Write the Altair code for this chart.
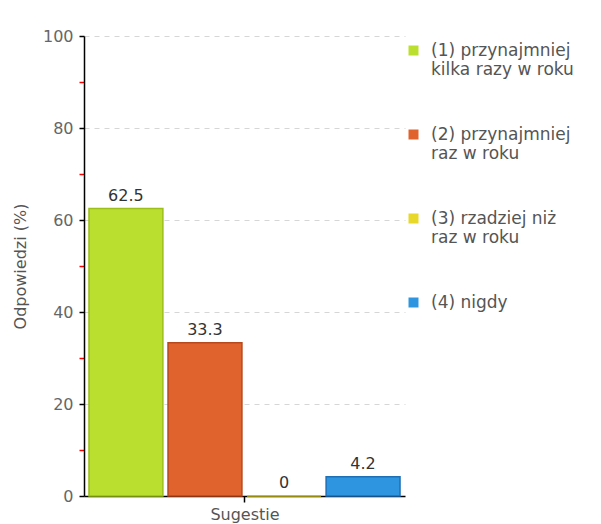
import altair as alt
import pandas as pd

group = ["Sugestie"] * 4
series = [
    "(1) przynajmniej\nkilka razy w roku",
    "(2) przynajmniej\nraz w roku",
    "(3) rzadziej niż\nraz w roku",
    "(4) nigdy",
]
values = [62.5, 33.3, 0.0, 4.2]
value_labels = ["62.5", "33.3", "0", "4.2"]
fill_colors = ["#BADF2E", "#E0622D", "#E8D82A", "#2E96E0"]
stroke_colors = ["#9CBE1A", "#B8481C", "#C9B915", "#1F6FB5"]
y_ticks = [0, 10, 20, 30, 40, 50, 60, 70, 80, 90, 100]

df = pd.DataFrame({"group": group, "series": series, "value": values, "lab": value_labels})

FONT = "DejaVu Sans"

x_enc = alt.X(
    "group:N",
    scale=alt.Scale(paddingOuter=0.016, paddingInner=0),
    axis=alt.Axis(
        labels=False, title="Sugestie", domainColor="black", domainWidth=1.5,
        tickColor="black", tickSize=6, tickWidth=1.5, titleFont=FONT, titleFontSize=16,
        titleFontWeight="normal", titleColor="#555", titlePadding=4,
    ),
)
xo_enc = alt.XOffset("series:N", sort=series, scale=alt.Scale(paddingInner=0.065, paddingOuter=0))
y_enc = alt.Y(
    "value:Q",
    scale=alt.Scale(domain=[0, 100], nice=False),
    axis=alt.Axis(
        values=y_ticks,
        labelExpr="datum.value % 20 == 0 ? datum.label : ''",
        title="Odpowiedzi (%)",
        titleFont=FONT, titleFontSize=16, titleFontWeight="normal", titleColor="#555",
        titlePadding=14,
        labelFont=FONT, labelFontSize=16, labelColor="#666", labelPadding=6,
        domainColor="black", domainWidth=1.5,
        tickColor={"condition": {"test": "datum.value % 20 != 0", "value": "red"}, "value": "black"},
        tickSize=5, tickWidth=1.5,
        grid=True, gridColor="#d6d6d6", gridDash=[5, 5], gridWidth=1,
        gridOpacity={"condition": {"test": "datum.value % 20 != 0 || datum.value == 0", "value": 0}, "value": 1},
    ),
)

bars = alt.Chart(df).mark_bar(strokeWidth=1.5).encode(
    x=x_enc,
    xOffset=xo_enc,
    y=y_enc,
    fill=alt.Fill(
        "series:N", sort=series,
        scale=alt.Scale(domain=series, range=fill_colors),
        legend=alt.Legend(
            title=None, orient="none", legendX=321, legendY=6,
            symbolType="square", symbolSize=100, symbolStrokeWidth=0,
            labelExpr="split(datum.label, '\\n')",
            labelFont=FONT, labelFontSize=17, labelColor="#555",
            labelOffset=9, rowPadding=47, labelLimit=300, padding=0,
        ),
    ),
    stroke=alt.Stroke("series:N", sort=series, scale=alt.Scale(domain=series, range=stroke_colors), legend=None),
)

texts = alt.Chart(df).mark_text(baseline="bottom", dy=-5, font=FONT, fontSize=16, color="#333").encode(
    x=alt.X("group:N"),
    xOffset=alt.XOffset("series:N", sort=series),
    y=alt.Y("value:Q"),
    text="lab:N",
)

chart = alt.layer(bars, texts).properties(
    width=321, height=460,
    padding={"left": 76, "top": 28, "right": 188, "bottom": 40},
    autosize=alt.AutoSizeParams(type="none"),
    background="white",
).configure_view(stroke=None, strokeWidth=0)

chart.save("out.html", embed_options={"renderer": "svg", "actions": False})
